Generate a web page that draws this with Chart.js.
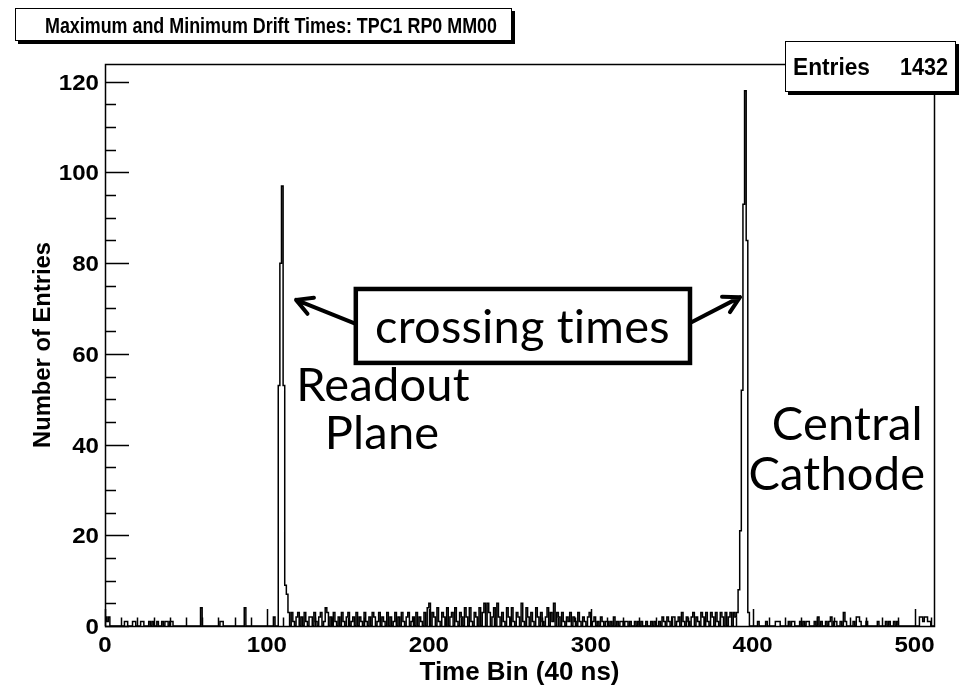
<!DOCTYPE html>
<html>
<head>
<meta charset="utf-8">
<title>Maximum and Minimum Drift Times</title>
<script src="https://cdn.jsdelivr.net/npm/chart.js@4/dist/chart.umd.min.js"></script>
<style>
  html, body { margin: 0; padding: 0; background: #fff; }
  #wrap { position: relative; width: 961px; height: 686px; }
</style>
</head>
<body>
<div id="wrap"><canvas id="drift" width="961" height="686"></canvas></div>
<script>
/* ---------------------------------------------------------- */
/* histogram data: 512 time bins of 40 ns                      */
/* ---------------------------------------------------------- */
const TITLE = 'Maximum and Minimum Drift Times: TPC1 RP0 MM00';
const X_TITLE = 'Time Bin (40 ns)';
const Y_TITLE = 'Number of Entries';
const ENTRIES = 1432;

const X_MAJOR = [0, 100, 200, 300, 400, 500];
const Y_MAJOR = [0, 20, 40, 60, 80, 100, 120];

// counts per bin, 32 bins per row
const counts = [
  0,2,1,2,0,0,0,0,0,0,0,0,0,1,1,0,0,0,1,1,0,0,0,1,1,0,0,0,1,0,1,0,
  0,1,0,0,1,0,1,1,0,1,1,0,0,0,0,0,0,0,0,0,0,0,0,0,0,0,0,0,4,0,0,0,
  0,0,0,0,0,0,0,0,1,1,0,0,0,0,0,0,0,0,0,0,0,0,0,4,0,0,0,0,0,0,0,0,
  0,0,0,0,0,0,0,0,0,2,0,0,53,80,97,53,9,7,3,0,3,1,0,2,3,0,2,0,3,1,0,2,
  2,0,3,1,0,2,3,0,1,4,3,0,2,0,3,1,0,2,0,3,1,0,2,3,0,1,2,0,3,0,2,1,
  0,3,1,0,2,0,3,2,0,1,3,0,2,1,0,3,0,2,0,1,3,0,2,0,3,1,0,2,3,0,1,2,
  0,3,0,2,1,0,3,0,4,5,0,3,2,0,4,1,0,3,2,0,4,0,2,3,0,4,1,0,3,2,0,4,
  2,0,4,1,0,3,2,0,4,0,3,5,0,5,3,0,2,4,0,5,2,0,3,1,0,4,2,0,4,1,0,3,
  2,0,5,1,0,4,2,0,3,1,0,4,2,0,3,1,0,2,4,0,3,1,5,0,3,2,0,3,1,0,2,1,
  3,0,2,1,0,3,1,0,2,1,0,2,3,0,1,2,0,1,0,2,1,0,1,1,0,1,0,2,0,1,0,1,
  1,0,1,1,0,1,0,0,1,0,1,0,1,0,0,1,0,0,1,0,1,0,0,1,0,2,1,0,2,1,0,2,
  2,0,1,2,0,3,1,0,2,1,0,2,3,0,2,1,0,3,2,0,3,1,0,3,2,0,3,1,0,3,2,0,
  3,0,2,3,0,3,2,3,8,21,52,93,118,85,3,0,0,0,0,0,1,0,0,0,0,1,0,0,0,0,0,1,
  1,1,0,0,0,0,0,1,0,1,1,0,0,0,1,0,1,0,1,1,0,0,0,1,0,2,0,1,0,0,1,0,
  1,2,0,1,1,0,0,1,0,3,1,0,0,0,0,1,0,2,2,1,0,0,0,1,0,0,0,0,0,0,1,0,
  0,0,0,1,0,1,0,0,1,0,1,0,0,0,0,0,0,0,0,0,0,0,0,0,2,2,1,2,2,1,1,0
];

const N_BINS = counts.length;
const Y_MAX = 1.05 * Math.max(...counts);

// step outline: one point per bin low edge, closed down to zero at both ends
const outline = [{ x: 0, y: 0 }]
  .concat(counts.map((c, i) => ({ x: i, y: c })))
  .concat([{ x: N_BINS, y: counts[N_BINS - 1] }, { x: N_BINS, y: 0 }]);

/* ---------------------------------------------------------- */
/* slide annotations, anchored in data units                   */
/* ---------------------------------------------------------- */
const noteBox = { x0: 154.9, x1: 361.3, y0: 58.0, y1: 74.3 };
const noteArrows = [
  { from: [154.9, 66.6], to: [118.0, 71.9] },
  { from: [361.3, 66.8], to: [392.2, 72.5] }
];
const noteTexts = [
  { text: 'crossing times', x: 257.8, y: 62.4 },
  { text: 'Readout', x: 171.7, y: 49.6 },
  { text: 'Plane', x: 171.1, y: 39.0 },
  { text: 'Central', x: 458.5, y: 41.0 },
  { text: 'Cathode', x: 452.0, y: 30.0 }
];
const NOTE_FIT_WIDTH = 293;   // width of the boxed caption

const ROOT_FONT = '"Liberation Sans", Arial, sans-serif';
const NOTE_FONT = 'Lato, "Open Sans", sans-serif';

// draws text squeezed or stretched horizontally to a given width
function fitText(ctx, str, x, y, size, width, align) {
  ctx.font = 'bold ' + size + 'px ' + ROOT_FONT;
  const w = ctx.measureText(str).width;
  ctx.save();
  ctx.translate(x, y);
  ctx.scale(width ? width / w : 1, 1);
  ctx.textAlign = align;
  ctx.textBaseline = 'alphabetic';
  ctx.fillText(str, 0, 0);
  ctx.restore();
}

function shadowBox(ctx, x0, y0, x1, y1) {
  ctx.fillStyle = '#000';
  ctx.fillRect(x0 + 3, y0 + 3, x1 - x0, y1 - y0);
  ctx.fillStyle = '#fff';
  ctx.fillRect(x0, y0, x1 - x0, y1 - y0);
  ctx.strokeStyle = '#000';
  ctx.lineWidth = 1;
  ctx.strokeRect(x0 + 0.5, y0 + 0.5, x1 - x0 - 1, y1 - y0 - 1);
}

const rootDecor = {
  id: 'rootDecor',
  afterDraw(chart) {
    const { ctx, chartArea: a } = chart;
    const xs = chart.scales.x, ys = chart.scales.y;
    const L = Math.round(a.left), R = Math.round(a.right);
    const T = Math.round(a.top), B = Math.round(a.bottom);
    ctx.save();

    // frame
    ctx.strokeStyle = '#000';
    ctx.lineWidth = 1.5;
    ctx.strokeRect(L + 0.5, T + 0.5, R - L, B - T);

    // inward ticks
    ctx.beginPath();
    for (let v = 0; v <= Y_MAX; v += 5) {
      const py = Math.round(ys.getPixelForValue(v)) + 0.5;
      const len = v % 20 === 0 ? 24 : 11;
      ctx.moveTo(L, py);
      ctx.lineTo(L + len, py);
    }
    for (let v = 0; v <= N_BINS; v += 10) {
      const px = Math.round(xs.getPixelForValue(v)) + 0.5;
      const len = v % 100 === 0 ? 17 : 8.5;
      ctx.moveTo(px, B);
      ctx.lineTo(px, B - len);
    }
    ctx.stroke();

    // tick labels
    ctx.fillStyle = '#000';
    Y_MAJOR.forEach(v => {
      const s = String(v);
      fitText(ctx, s, L - 6, ys.getPixelForValue(v) + 8, 22, s.length * 13.4, 'right');
    });
    X_MAJOR.forEach(v => {
      const s = String(v);
      fitText(ctx, s, xs.getPixelForValue(v), 652, 22, s.length * 13.4, 'center');
    });

    // axis titles
    fitText(ctx, X_TITLE, (L + R) / 2, 680, 25, 200, 'center');
    ctx.save();
    ctx.translate(50, (T + B) / 2);
    ctx.rotate(-Math.PI / 2);
    fitText(ctx, Y_TITLE, 0, 0, 24, 206, 'center');
    ctx.restore();

    // title pave
    shadowBox(ctx, 15, 8, 512, 41);
    ctx.fillStyle = '#000';
    fitText(ctx, TITLE, 45, 33, 22, 452, 'left');

    // stats pave
    shadowBox(ctx, 785, 41, 956, 92);
    ctx.fillStyle = '#000';
    fitText(ctx, 'Entries', 793, 75, 23, 77, 'left');
    fitText(ctx, String(ENTRIES), 948, 75, 23, 48, 'right');

    // annotation box
    const bx0 = xs.getPixelForValue(noteBox.x0), bx1 = xs.getPixelForValue(noteBox.x1);
    const by0 = ys.getPixelForValue(noteBox.y1), by1 = ys.getPixelForValue(noteBox.y0);
    ctx.fillStyle = '#fff';
    ctx.fillRect(bx0, by0, bx1 - bx0, by1 - by0);
    ctx.lineWidth = 4.5;
    ctx.strokeStyle = '#000';
    ctx.strokeRect(bx0, by0, bx1 - bx0, by1 - by0);

    // arrows
    ctx.lineWidth = 4;
    ctx.lineCap = 'round';
    ctx.lineJoin = 'round';
    noteArrows.forEach(ar => {
      const x0 = xs.getPixelForValue(ar.from[0]), y0 = ys.getPixelForValue(ar.from[1]);
      const x1 = xs.getPixelForValue(ar.to[0]), y1 = ys.getPixelForValue(ar.to[1]);
      const ang = Math.atan2(y1 - y0, x1 - x0);
      ctx.beginPath();
      ctx.moveTo(x0, y0);
      ctx.lineTo(x1, y1);
      ctx.moveTo(x1 - 18 * Math.cos(ang - 0.5), y1 - 18 * Math.sin(ang - 0.5));
      ctx.lineTo(x1, y1);
      ctx.lineTo(x1 - 18 * Math.cos(ang + 0.5), y1 - 18 * Math.sin(ang + 0.5));
      ctx.stroke();
    });

    // annotation text, one size for all; no ligatures so "ti" stays two letters
    ctx.textRendering = 'optimizeSpeed';
    ctx.letterSpacing = '0.2px';
    ctx.font = '400 100px ' + NOTE_FONT;
    const noteSize = 100 * NOTE_FIT_WIDTH / ctx.measureText(noteTexts[0].text).width;
    ctx.font = '400 ' + noteSize.toFixed(1) + 'px ' + NOTE_FONT;
    ctx.fillStyle = '#000';
    ctx.textAlign = 'center';
    ctx.textBaseline = 'alphabetic';
    noteTexts.forEach(n => {
      ctx.fillText(n.text, xs.getPixelForValue(n.x), ys.getPixelForValue(n.y));
    });

    ctx.restore();
  }
};

new Chart(document.getElementById('drift'), {
  type: 'line',
  data: {
    datasets: [{
      data: outline,
      borderColor: '#000',
      borderWidth: 1.5,
      pointRadius: 0,
      stepped: 'after',
      fill: false
    }]
  },
  options: {
    responsive: false,
    animation: false,
    devicePixelRatio: 1,
    layout: { padding: { top: 64, right: 27, left: 0, bottom: 0 } },
    plugins: {
      legend: { display: false },
      tooltip: { enabled: false },
      title: { display: false }
    },
    scales: {
      x: {
        type: 'linear',
        min: 0,
        max: N_BINS,
        grid: { display: false },
        border: { display: false },
        ticks: { display: false },
        afterFit(s) { s.height = 60; }
      },
      y: {
        min: 0,
        max: Y_MAX,
        grid: { display: false },
        border: { display: false },
        ticks: { display: false },
        afterFit(s) { s.width = 105; }
      }
    }
  },
  plugins: [rootDecor]
});
</script>
</body>
</html>
